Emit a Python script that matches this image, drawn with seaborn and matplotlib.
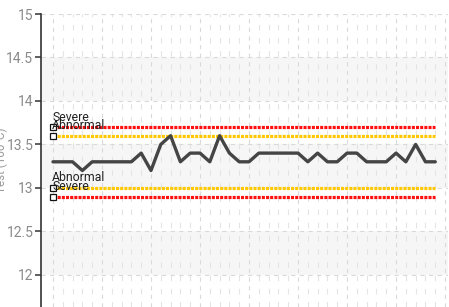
import numpy as np
import pandas as pd
import matplotlib
matplotlib.use("Agg")
import matplotlib.pyplot as plt
import seaborn as sns

# ---- data ----
values = [13.3, 13.3, 13.3, 13.2, 13.3, 13.3, 13.3, 13.3, 13.3, 13.4,
          13.2, 13.5, 13.6, 13.3, 13.4, 13.4, 13.3, 13.6, 13.4, 13.3,
          13.3, 13.4, 13.4, 13.4, 13.4, 13.4, 13.3, 13.4, 13.3, 13.3,
          13.4, 13.4, 13.3, 13.3, 13.3, 13.4, 13.3, 13.5, 13.3, 13.3]
index = list(range(len(values)))
upper_severe = 13.7
upper_abnormal = 13.6
lower_abnormal = 13.0
lower_severe = 12.9
y_ticks = [12, 12.5, 13, 13.5, 14, 14.5, 15]
y_label = "Test (100°C)"

sns.set_style("white")
plt.rcParams['font.family'] = ['Roboto', 'DejaVu Sans']
plt.rcParams['lines.scale_dashes'] = False

DPI = 100
fig = plt.figure(figsize=(449 / DPI, 307 / DPI), dpi=DPI)
ax = fig.add_axes([41 / 449, 0.0, 407 / 449, 1 - 14 / 307])

x_lo, x_hi = -1.22, 40.3
y_lo, y_hi = 11.63, 15.0
ax.set_xlim(x_lo, x_hi)
ax.set_ylim(y_lo, y_hi)

# alternating bands
for b in [12.0, 13.0, 14.0]:
    ax.axhspan(b, b + 0.5, color="#f6f6f6", zorder=0, lw=0)

# grid
ax.set_xticks(np.arange(0, 41, 5))
ax.set_xticks(np.arange(0, 41, 1), minor=True)
ax.set_yticks(y_ticks)
ax.grid(True, which="major", axis="both", color="#d9d9d9", lw=0.8,
        linestyle=(0, (3.0, 3.2)), zorder=1)
ax.grid(True, which="minor", axis="x", color="#e4e4e4", lw=0.8,
        linestyle=(0, (4.0, 5.5)), zorder=1)
ax.set_axisbelow(True)

# thresholds
df = pd.DataFrame({"x": index, "y": values})
ends = [index[0], index[-1]]
thr = [(upper_severe, "#ff1010", "Severe"),
       (upper_abnormal, "#ffc800", "Abnormal"),
       (lower_abnormal, "#ffc800", "Abnormal"),
       (lower_severe, "#ff1010", "Severe")]
for val, col, lab in thr:
    ax.plot(ends, [val, val], color=col, lw=2.3,
            linestyle=(0, (2.2, 0.8)), zorder=3, solid_capstyle="butt")

# data line
sns.lineplot(data=df, x="x", y="y", ax=ax, color="#454545", lw=2.4, zorder=4)

# markers and labels
for val, col, lab in thr:
    ax.plot([index[0]], [val], marker="s", ms=4.2, mfc="white",
            mec="#111111", mew=0.9, zorder=6, clip_on=False)
    ax.annotate(lab, xy=(index[0], val), xytext=(-0.5, 2.5),
                textcoords="offset points", ha="left", va="bottom",
                fontsize=8.8, color="#222222", zorder=7,
                family=['Roboto', 'DejaVu Sans'])

# axes styling
for s in ["top", "right", "bottom"]:
    ax.spines[s].set_visible(False)
ax.spines["left"].set_color("#333333")
ax.spines["left"].set_linewidth(1.2)
ax.tick_params(axis="y", which="major", left=True, length=4, width=1.1,
               color="#333333", labelsize=10, labelcolor="#8a8a8a", pad=1.5)
ax.tick_params(axis="x", which="both", bottom=False, labelbottom=False)
ax.set_yticklabels([("%g" % t) for t in y_ticks])
ax.set_xlabel("")
ax.set_ylabel(y_label, fontsize=8.5, color="#9a9a9a")
ax.yaxis.set_label_coords(-0.082, 0.50)

fig.savefig("out.png", dpi=DPI)
